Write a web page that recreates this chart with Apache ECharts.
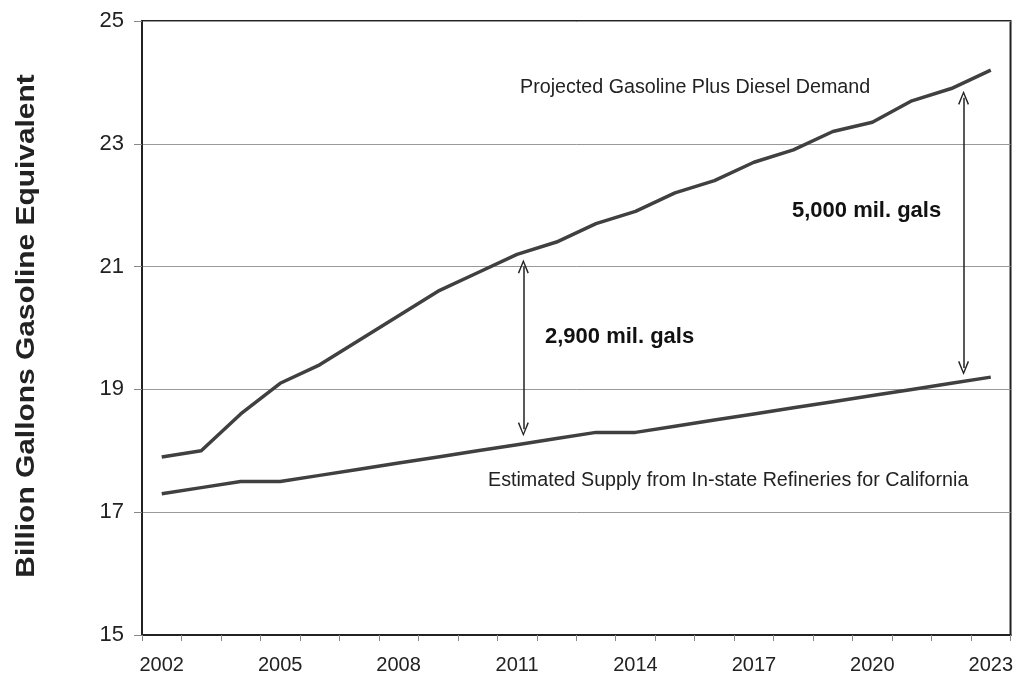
<!DOCTYPE html>
<html><head><meta charset="utf-8">
<script src="https://cdn.jsdelivr.net/npm/echarts@6/dist/echarts.min.js"></script>
<style>html,body{margin:0;padding:0;background:#fff}#c{width:1016px;height:679px}</style>
</head><body><div id="c"></div>
<script>
const years = ['2002','2003','2004','2005','2006','2007','2008','2009','2010','2011','2012','2013','2014','2015','2016','2017','2018','2019','2020','2021','2022','2023'];
const demand = [17.9,18.0,18.6,19.1,19.4,19.8,20.2,20.6,20.9,21.2,21.4,21.7,21.9,22.2,22.4,22.7,22.9,23.2,23.35,23.7,23.9,24.2];
const supply = [17.3,17.4,17.5,17.5,17.6,17.7,17.8,17.9,18.0,18.1,18.2,18.3,18.3,18.4,18.5,18.6,18.7,18.8,18.9,19.0,19.1,19.2];
const arrow1 = [[9.66,21.0],[9.66,18.35]];
const arrow2 = [[20.81,23.75],[20.81,19.35]];
const FONT = 'Liberation Sans, Arial, sans-serif';
const chevron = 'path://M0,10 L5,0 L10,10 L8.8,10.6 L5,2.6 L1.2,10.6 Z';
const chart = echarts.init(document.getElementById('c'));
chart.setOption({
  animation:false,
  grid:{left:142,right:4,top:21,bottom:44,show:true,borderColor:'#222',borderWidth:2,backgroundColor:'transparent'},
  xAxis:[{
    type:'category',data:years,boundaryGap:true,
    axisLine:{lineStyle:{color:'#222',width:2}},
    axisTick:{show:true,interval:0,length:6,lineStyle:{color:'#888'}},
    axisLabel:{interval:2,color:'#222',fontSize:20,fontFamily:FONT,margin:20}
  },{
    type:'value',min:0,max:22,show:false
  }],
  yAxis:{
    type:'value',min:15,max:25,interval:2,
    axisLine:{show:true,lineStyle:{color:'#222',width:2}},
    axisTick:{show:true,length:8,lineStyle:{color:'#888'}},
    splitLine:{lineStyle:{color:'#999',width:1}},
    axisLabel:{color:'#222',fontSize:22,fontFamily:FONT,margin:18}
  },
  series:[
    {type:'line',data:demand,symbol:'none',lineStyle:{color:'#404040',width:3.5}},
    {type:'line',data:supply,symbol:'none',lineStyle:{color:'#404040',width:3.5}},
    {type:'line',xAxisIndex:1,data:[],symbol:'none',
      markLine:{silent:true,symbol:[chevron,chevron],symbolSize:[11,14],
        lineStyle:{color:'#222',width:1.5,type:'solid'},label:{show:false},
        data:[
          [{coord:arrow1[0]},{coord:arrow1[1]}],
          [{coord:arrow2[0]},{coord:arrow2[1]}]
        ]}}
  ],
  graphic:[
    {type:'text',x:27,y:326,rotation:Math.PI/2,scaleX:1.15,
      style:{text:'Billion Gallons Gasoline Equivalent',font:'bold 26px '+FONT,fill:'#222',align:'center',verticalAlign:'middle'}},
    {type:'text',left:520,top:78,style:{text:'Projected Gasoline Plus Diesel Demand',font:'19.7px '+FONT,fill:'#222'}},
    {type:'text',left:488,top:471,style:{text:'Estimated Supply from In-state Refineries for California',font:'19.7px '+FONT,fill:'#222'}},
    {type:'text',left:545,top:326,style:{text:'2,900 mil. gals',font:'bold 22px '+FONT,fill:'#111'}},
    {type:'text',left:792,top:200,style:{text:'5,000 mil. gals',font:'bold 22px '+FONT,fill:'#111'}}
  ]
});
</script></body></html>
